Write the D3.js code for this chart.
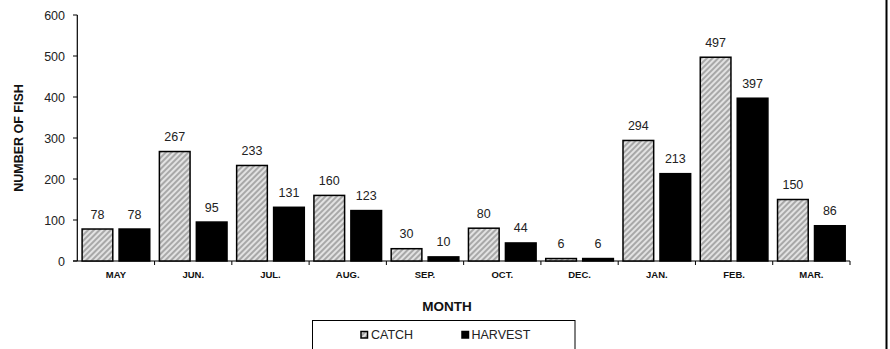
<!DOCTYPE html>
<html><head><meta charset="utf-8">
<script src="https://cdn.jsdelivr.net/npm/d3@7"></script>
<style>body{margin:0;background:#fff}svg{display:block;font-family:"Liberation Sans",Arial,sans-serif}</style>
</head><body><svg id="c" width="890" height="349"></svg>
<script>
const months = ["MAY","JUN.","JUL.","AUG.","SEP.","OCT.","DEC.","JAN.","FEB.","MAR."];
const catchVals = [78,267,233,160,30,80,6,294,497,150];
const harvestVals = [78,95,131,123,10,44,6,213,397,86];
const seriesNames = ["CATCH","HARVEST"];
const yTicks = [0,100,200,300,400,500,600];

const svg = d3.select("#c");
const defs = svg.append("defs");
const pat = defs.append("pattern").attr("id","hatch").attr("patternUnits","userSpaceOnUse")
  .attr("width",4).attr("height",4).attr("patternTransform","rotate(45)");
pat.append("rect").attr("width",4).attr("height",4).attr("fill","#e2e2e2");
pat.append("rect").attr("width",2).attr("height",4).attr("fill","#a8a8a8");

const x0 = 77.3, x1 = 850, yTop = 15, yBot = 261;
const x = d3.scaleBand().domain(months).range([x0,x1]);
const y = d3.scaleLinear().domain([0,600]).range([yBot,yTop]);
const sub = d3.scaleBand().domain(seriesNames).range([0,x.bandwidth()]).paddingInner(0.17).paddingOuter(0.13);

// y axis
svg.append("line").attr("x1",x0).attr("x2",x0).attr("y1",yTop).attr("y2",yBot).attr("stroke","#000").attr("stroke-width",1.2);
svg.append("line").attr("x1",73).attr("x2",x1).attr("y1",yBot).attr("y2",yBot).attr("stroke","#000").attr("stroke-width",1.2);
yTicks.forEach(t=>{
  svg.append("line").attr("x1",73).attr("x2",x0).attr("y1",y(t)).attr("y2",y(t)).attr("stroke","#000");
  svg.append("text").attr("x",65).attr("y",y(t)+4.5).attr("text-anchor","end").attr("font-size",12.5).attr("fill","#222").text(t);
});
// category ticks
months.forEach((m,i)=>{
  if(i>0) svg.append("line").attr("x1",x(m)).attr("x2",x(m)).attr("y1",yBot).attr("y2",yBot+4).attr("stroke","#000");
  svg.append("text").attr("x",x(m)+x.bandwidth()/2).attr("y",277.5).attr("text-anchor","middle")
    .attr("font-size",9.5).attr("font-weight","bold").attr("fill","#111").text(m);
});
svg.append("line").attr("x1",x1).attr("x2",x1).attr("y1",yBot).attr("y2",yBot+4).attr("stroke","#000");

const data = [catchVals, harvestVals];
data.forEach((vals,si)=>{
  const g = svg.append("g");
  g.selectAll("rect").data(vals).join("rect")
    .attr("x",(d,i)=>x(months[i])+sub(seriesNames[si]))
    .attr("y",d=>y(d))
    .attr("width",sub.bandwidth())
    .attr("height",d=>yBot-y(d))
    .attr("fill", si===0 ? "url(#hatch)" : "#000")
    .attr("stroke","#000").attr("stroke-width",1.5);
  g.selectAll("text").data(vals).join("text")
    .attr("x",(d,i)=>x(months[i])+sub(seriesNames[si])+sub.bandwidth()/2)
    .attr("y",d=>y(d)-10.5)
    .attr("text-anchor","middle").attr("font-size",12.5).attr("fill","#222").text(d=>d);
});

// titles
svg.append("text").attr("transform","translate(23,138) rotate(-90)").attr("text-anchor","middle")
  .attr("font-size",12.5).attr("font-weight","bold").attr("fill","#111").text("NUMBER OF FISH");
svg.append("text").attr("x",447).attr("y",310.5).attr("text-anchor","middle")
  .attr("font-size",13.5).attr("font-weight","bold").attr("fill","#111").text("MONTH");

// legend
svg.append("rect").attr("x",312.5).attr("y",320.5).attr("width",262.5).attr("height",40)
  .attr("fill","#fff").attr("stroke","#000").attr("stroke-width",1);
const leg = [{n:seriesNames[0],sx:361,tx:371},{n:seriesNames[1],sx:462,tx:471.5}];
leg.forEach((l,i)=>{
  svg.append("rect").attr("x",l.sx).attr("y",331.5).attr("width",6.5).attr("height",6.5)
    .attr("fill", i===0 ? "url(#hatch)" : "#000").attr("stroke","#000").attr("stroke-width",1.5);
  svg.append("text").attr("x",l.tx).attr("y",339.3).attr("font-size",12.5).attr("fill","#222").text(l.n);
});
// right border
svg.append("line").attr("x1",886.5).attr("x2",886.5).attr("y1",0).attr("y2",349).attr("stroke","#000").attr("stroke-width",2);
</script></body></html>
